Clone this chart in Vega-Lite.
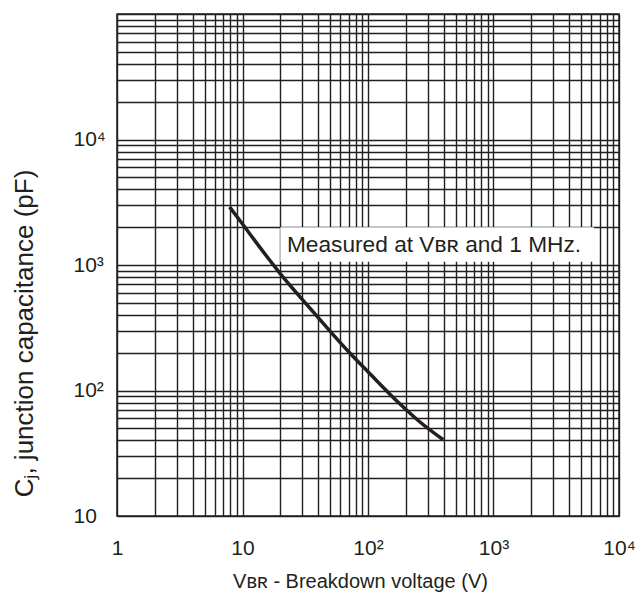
{
  "$schema": "https://vega.github.io/schema/vega-lite/v6.json",
  "width": 502,
  "height": 502,
  "autosize": "none",
  "padding": {"left": 117, "top": 14, "right": 16, "bottom": 79},
  "background": "white",
  "config": {
    "view": {"stroke": "#231f20", "strokeWidth": 1.5},
    "font": "Liberation Sans"
  },
  "datasets": {
    "curve": [
      {"x": 7.9, "y": 2900},
      {"x": 10, "y": 2120},
      {"x": 14, "y": 1350},
      {"x": 19.9, "y": 859},
      {"x": 35.5, "y": 438},
      {"x": 50, "y": 296},
      {"x": 71.9, "y": 198},
      {"x": 100, "y": 141},
      {"x": 180, "y": 78},
      {"x": 251, "y": 57.7},
      {"x": 398, "y": 40.5}
    ],
    "box": [{"x": 20, "x2": 6300, "y": 1060, "y2": 2000}],
    "note": [{"x": 22.6, "y": 1450, "text": "Measured at Vʙʀ and 1 MHz."}]
  },
  "encoding": {
    "x": {
      "field": "x",
      "type": "quantitative",
      "scale": {"type": "log", "domain": [1, 10000], "nice": false},
      "axis": {
        "values": [1,2,3,4,5,6,7,8,9,10,20,30,40,50,60,70,80,90,100,200,300,400,500,600,700,800,900,1000,2000,3000,4000,5000,6000,7000,8000,9000,10000],
        "labelExpr": "datum.value == 1 ? '1' : datum.value == 10 ? '10' : datum.value == 100 ? '10²' : datum.value == 1000 ? '10³' : datum.value == 10000 ? '10⁴' : ''",
        "grid": true,
        "gridColor": "#231f20",
        "gridWidth": 1.4,
        "gridOpacity": 1,
        "ticks": false,
        "domain": false,
        "labelFontSize": 21,
        "labelColor": "#231f20",
        "labelPadding": 21,
        "labelOverlap": false,
        "labelFlush": false,
        "title": "Vʙʀ - Breakdown voltage (V)",
        "titleFontSize": 20,
        "titleFontWeight": "normal",
        "titleColor": "#231f20",
        "titlePadding": 13,
        "titleX": 243
      }
    },
    "y": {
      "field": "y",
      "type": "quantitative",
      "scale": {"type": "log", "domain": [10, 100000], "nice": false},
      "axis": {
        "values": [10,20,30,40,50,60,70,80,90,100,200,300,400,500,600,700,800,900,1000,2000,3000,4000,5000,6000,7000,8000,9000,10000,20000,30000,40000,50000,60000,70000,80000,90000,100000],
        "labelExpr": "datum.value == 10 ? '10' : datum.value == 100 ? '10²' : datum.value == 1000 ? '10³' : datum.value == 10000 ? '10⁴' : ''",
        "grid": true,
        "gridColor": "#231f20",
        "gridWidth": 1.4,
        "gridOpacity": 1,
        "ticks": false,
        "domain": false,
        "labelFontSize": 21,
        "labelColor": "#231f20",
        "labelAlign": "left",
        "labelBaseline": "middle",
        "labelPadding": 44,
        "labelOverlap": false,
        "labelFlush": false,
        "title": "Cⱼ,  junction capacitance (pF)",
        "titleFontSize": 26,
        "titleFontWeight": "normal",
        "titleColor": "#231f20",
        "titlePadding": 36,
        "titleY": 319
      }
    }
  },
  "layer": [
    {
      "data": {"name": "box"},
      "mark": {"type": "rect", "fill": "white", "stroke": null},
      "encoding": {
        "x2": {"field": "x2"},
        "y2": {"field": "y2"}
      }
    },
    {
      "data": {"name": "curve"},
      "mark": {"type": "line", "color": "#231f20", "strokeWidth": 3.5, "interpolate": "monotone"},
      "encoding": {}
    },
    {
      "data": {"name": "note"},
      "mark": {"type": "text", "align": "left", "baseline": "middle", "fontSize": 22.7, "color": "#231f20"},
      "encoding": {"text": {"field": "text"}}
    }
  ]
}
